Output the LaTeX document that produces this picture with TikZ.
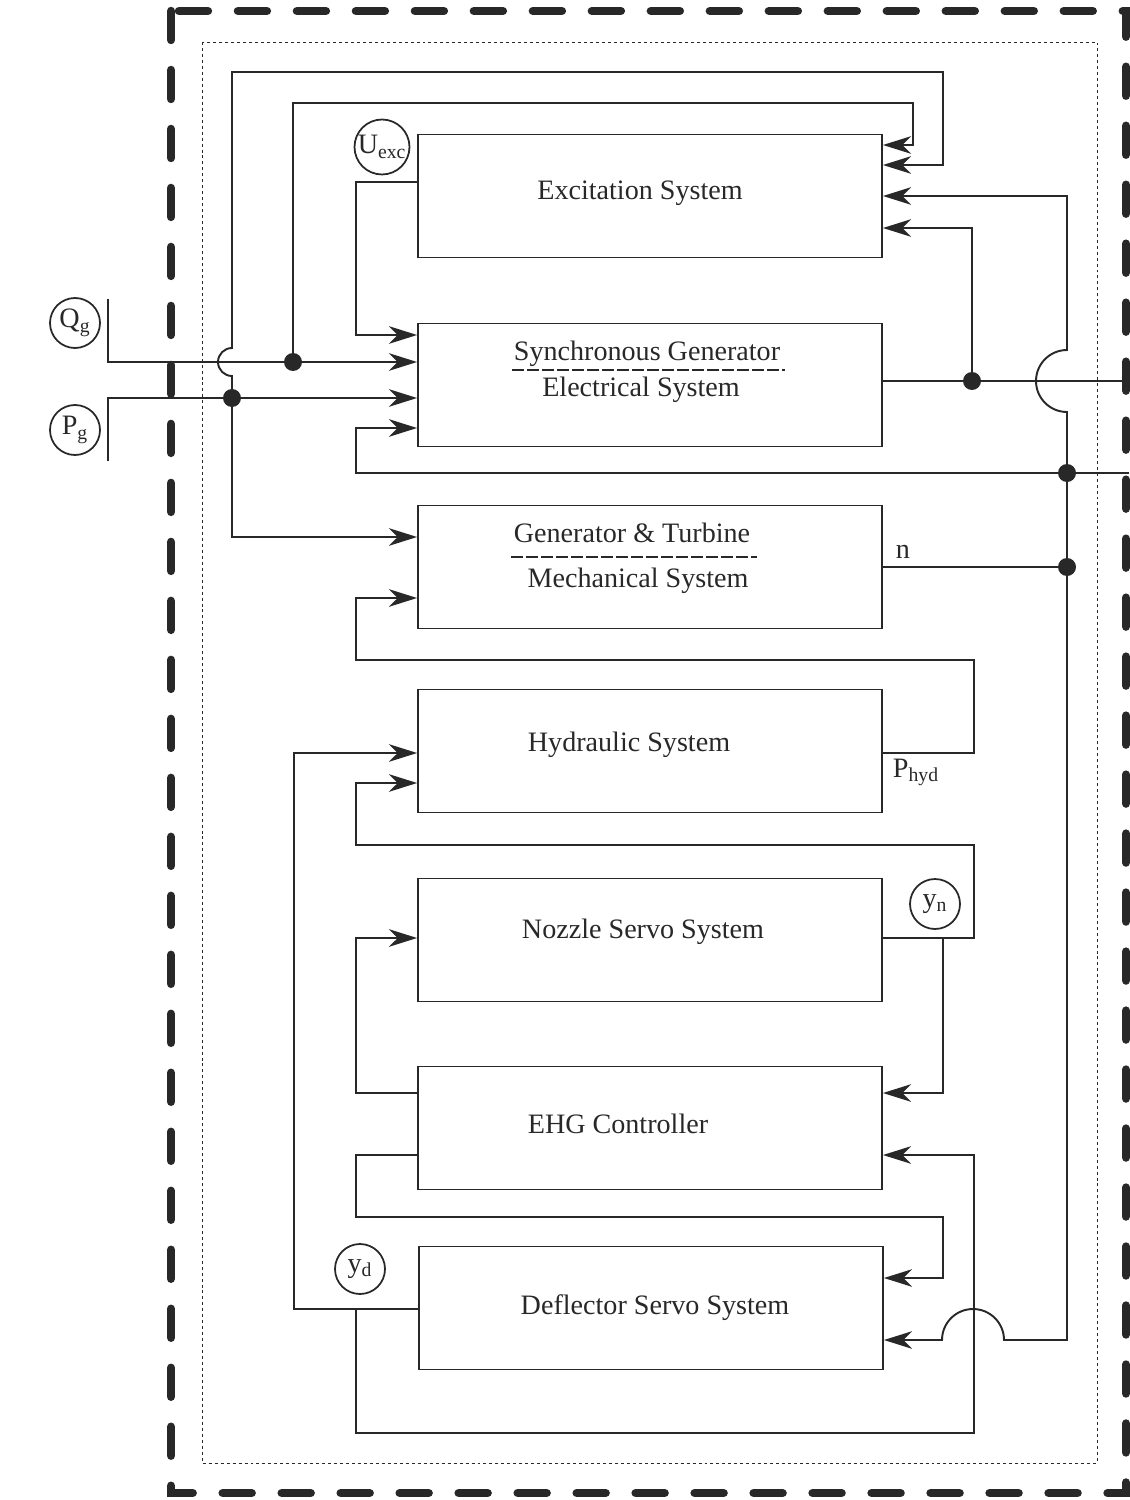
\documentclass[tikz,border=0pt]{standalone}
\usepackage{fontspec}
\setmainfont{Liberation Serif}
\usetikzlibrary{arrows.meta}

\begin{document}
\begin{tikzpicture}[x=0.02cm, y=-0.02cm]
  % Colors
  \definecolor{linecol}{RGB}{40,40,40}
  %
  \tikzset{
    sysbox/.style={draw=linecol, line width=1.1pt, minimum width=9.28cm, minimum height=2.46cm,
                   inner sep=0pt},
    lbl/.style={anchor=base, inner sep=0pt, text=linecol, font=\fontsize{16}{19}\selectfont},
    var/.style={circle, draw=linecol, line width=1pt, minimum size=1cm, inner sep=0pt,
                text=linecol, font=\fontsize{16}{19}\selectfont},
    jdot/.style={circle, fill=linecol, inner sep=0pt, minimum size=0.36cm},
    sig/.style={draw=linecol, line width=1.1pt},
    arr/.style={sig, -{Stealth[length=16pt, width=10pt, inset=5pt]}},
  }
  %
  \useasboundingbox (0,0) rectangle (1129,1500);
  %
  % === ENCLOSING BOXES ===
  \draw[linecol, line width=4.8pt, line cap=round, dash pattern=on 0.58cm off 0.6cm]
    (171,11) rectangle (1126,1493);
  \draw[linecol, line width=0.5pt, dash pattern=on 1.7pt off 1.7pt] (202,42) rectangle (1097,1463);
  %
  % === SUBSYSTEM BOXES ===
  \node[sysbox] (excsys)  at (650,196)  {};
  \node[sysbox] (syncgen) at (650,385)  {};
  \node[sysbox] (mechsys) at (650,567)  {};
  \node[sysbox] (hydsys)  at (650,751)  {};
  \node[sysbox] (nozsys)  at (650,940)  {};
  \node[sysbox] (ehgctrl) at (650,1128) {};
  \node[sysbox] (deflsys) at (651,1308) {};
  %
  % === BOX TEXTS ===
  \node[lbl] (exctxt)  at (640,200)  {Excitation System};
  \node[lbl] (synctop) at (647,360)  {Synchronous Generator};
  \node[lbl] (syncbot) at (641,396)  {Electrical System};
  \node[lbl] (mechtop) at (632,542)  {Generator \& Turbine};
  \node[lbl] (mechbot) at (638,587)  {Mechanical System};
  \node[lbl] (hydtxt)  at (629,751)  {Hydraulic System};
  \node[lbl] (noztxt)  at (643,938)  {Nozzle Servo System};
  \node[lbl] (ehgtxt)  at (618,1133) {EHG Controller};
  \node[lbl] (defltxt) at (655,1314) {Deflector Servo System};
  \draw[linecol, line width=0.8pt, dash pattern=on 0.24cm off 0.06cm] (512,370) -- (785,370);
  \draw[linecol, line width=0.8pt, dash pattern=on 0.24cm off 0.06cm] (511,557) -- (757,557);
  %
  % === VARIABLES ===
  \node[var] (qg) at (75,323) {Q\textsubscript{g}};
  \node[var] (pg) at (75,430) {P\textsubscript{g}};
  \node[var, minimum size=1.1cm] (uexc) at (382,147) {U\textsubscript{exc}};
  \node[var] (yn) at (935,904)  {y\textsubscript{n}};
  \node[var] (yd) at (360,1269) {y\textsubscript{d}};
  \node[lbl] (nlbl) at (903,558) {n};
  \node[lbl] (phyd) at (916,777) {P\textsubscript{hyd}};
  %
  % === JUNCTIONS ===
  \node[jdot] (jq) at (293,362)  {};
  \node[jdot] (jp) at (232,398)  {};
  \node[jdot] (je) at (972,381)  {};
  \node[jdot] (jg) at (1067,473) {};
  \node[jdot] (jn) at (1067,567) {};
  \coordinate (qgtop)   at (108,299);
  \coordinate (pgbot)   at (108,461);
  \coordinate (gridout) at (1129,381);
  \coordinate (gridin)  at (1129,473);
  \coordinate (yntap)   at (943,938);
  \coordinate (ydtap)   at (356,1309);
  %
  % === INPUTS Qg, Pg ===
  \draw[arr] (qgtop) -- (108,362) -- (syncgen.west |- 0,362);
  \draw[arr] (pgbot) -- (108,398) -- (syncgen.west |- 0,398);
  \draw[arr] (jq.center) -- (293,103) -- (913,103) -- (913,145) -- (excsys.east |- 0,145);
  \draw[arr] (jp.center) -- (232,376) arc[start angle=-90, end angle=-270, radius=0.28cm]
    -- (232,72) -- (943,72) -- (943,165) -- (excsys.east |- 0,165);
  \draw[arr] (jp.center) -- (232,537) -- (mechsys.west |- 0,537);
  %
  % === EXCITATION -> GENERATOR ===
  \draw[arr] (excsys.west |- 0,182) -- (356,182) -- (356,335) -- (syncgen.west |- 0,335);
  %
  % === GENERATOR OUTPUT / GRID ===
  \draw[sig] (syncgen.east |- 0,381) -- (gridout);
  \draw[arr] (je.center) -- (972,228) -- (excsys.east |- 0,228);
  \draw[arr] (gridin) -- (356,473) -- (356,428) -- (syncgen.west |- 0,428);
  \draw[arr] (jg.center) -- (1067,412) arc[start angle=-90, end angle=-270, radius=0.62cm]
    -- (1067,196) -- (excsys.east |- 0,196);
  \draw[arr] (jg.center) -- (1067,1340) -- (1004,1340) arc[start angle=0, end angle=180, radius=0.62cm]
    -- (deflsys.east |- 0,1340);
  \draw[sig] (mechsys.east |- 0,567) -- (jn.center);
  %
  % === HYDRAULIC LOOPS ===
  \draw[arr] (hydsys.east |- 0,753) -- (974,753) -- (974,660) -- (356,660) -- (356,598)
    -- (mechsys.west |- 0,598);
  \draw[arr] (deflsys.west |- 0,1309) -- (294,1309) -- (294,753) -- (hydsys.west |- 0,753);
  \draw[arr] (nozsys.east |- 0,938) -- (974,938) -- (974,845) -- (356,845) -- (356,783)
    -- (hydsys.west |- 0,783);
  %
  % === CONTROLLER LOOPS ===
  \draw[arr] (yntap) -- (943,1093) -- (ehgctrl.east |- 0,1093);
  \draw[arr] (ehgctrl.west |- 0,1093) -- (356,1093) -- (356,938) -- (nozsys.west |- 0,938);
  \draw[arr] (ehgctrl.west |- 0,1155) -- (356,1155) -- (356,1217) -- (943,1217) -- (943,1278)
    -- (deflsys.east |- 0,1278);
  \draw[arr] (ydtap) -- (356,1433) -- (974,1433) -- (974,1155) -- (ehgctrl.east |- 0,1155);
  %
\end{tikzpicture}
\end{document}
